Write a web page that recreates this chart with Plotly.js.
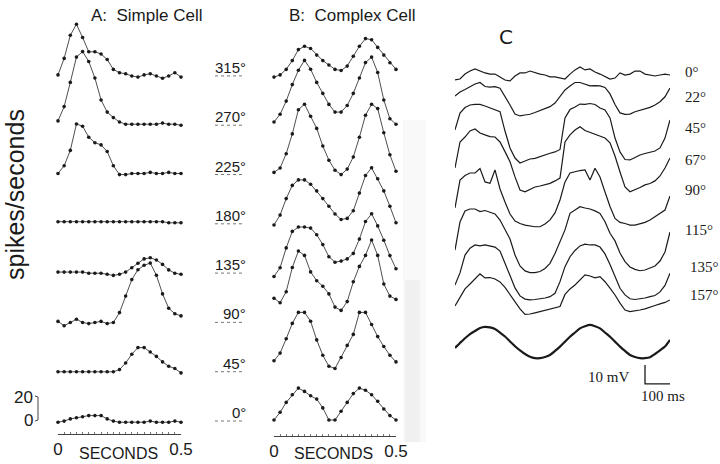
<!DOCTYPE html>
<html><head><meta charset="utf-8">
<script src="https://cdn.plot.ly/plotly-3.0.1.min.js"></script>
<style>html,body{margin:0;padding:0;background:#fff;}#chart{width:720px;height:464px;}</style>
</head><body><div id="chart"></div>
<script>
// ---------- data: panels A and B (spikes/s, 21 bins over 0.5 s) ----------
const timeSeconds = [0,0.025,0.05,0.075,0.1,0.125,0.15,0.175,0.2,0.225,0.25,0.275,0.3,0.325,0.35,0.375,0.4,0.425,0.45,0.475,0.5];
const orientationLabels = ['0°','45°','90°','135°','180°','225°','270°','315°'];

const simple0   = [-2,-1,1,2,3,4,4,4,1,-1,-2,-2,-2,-2,-2,-1,-2,-2,-2,-1,-2];
const simple45  = [-1,-1,-1,-1,-1,-1,-1,-1,-1,-1,1,7,15,21,21,17,13,8,4,2,-2];
const simple90  = [0,-4,-1,2,-1,-2,-1,0,-2,-1,8,23,38,47,51,53,42,25,12,7,5];
const simple135 = [0,0,0,0,0,-1,-1,-1,-2,-3,-2,0,4,8,12,13,11,7,2,-1,-2];
const simple180 = [1,1,1,1,1,1,1,1,1,1,1,1,1,1,1,1,1,1,0,0,0];
const simple225 = [0,7,21,45,43,33,28,26,20,7,-1,-1,0,0,0,1,0,0,1,0,0];
const simple270 = [3,16,38,61,66,57,42,22,11,6,2,0,0,0,0,0,0,1,0,0,-1];
const simple315 = [0,15,36,46,34,21,21,19,14,5,2,1,-1,-2,0,1,-1,-3,-1,2,-2];

const complex0   = [0,7,16,23,29,26,22,19,11,0,0,8,16,24,29,27,23,17,10,4,0];
const complex45  = [9,16,29,43,53,53,45,28,14,4,2,12,23,33,53,53,42,31,22,14,8];
const complex90  = [21,17,27,49,64,60,45,37,32,25,13,10,18,36,50,60,74,60,34,23,20];
const complex135 = [-4,4,22,37,41,41,40,34,25,14,9,10,12,17,30,46,53,42,29,15,3];
const complex180 = [-2,7,22,34,39,39,35,29,22,15,8,3,4,11,27,43,50,40,29,15,0];
const complex225 = [1,5,18,36,58,63,52,41,25,12,3,-1,4,15,33,53,63,59,37,17,2];
const complex270 = [2,9,21,36,49,58,50,38,28,18,11,11,17,28,42,56,61,47,22,5,0];
const complex315 = [-2,0,5,13,23,26,24,18,13,9,5,4,8,17,26,33,32,25,18,11,5];

// ---------- data: panel C (membrane potential, mV) ----------
const timeMs = [0,20,40,60,80,100,120,140,160,180,200,220,240,260,280,300,320,340,360,380,400,420,440,460,480,500,520,540,560,580,600,620,640,660,680,700,720,740,760,780,800,820,840,860];
const membraneLabels = ['0°','22°','45°','67°','90°','115°','135°','157°'];
const vm0   = [-4.2,-3.7,-1.1,0.5,1.6,0.5,-0.5,-1.1,-1.1,-2.6,-4.2,-4.7,-2.1,-0.5,-0.5,0.5,-0.5,-1.1,-1.6,-2.6,-2.6,-3.2,-3.7,-1.1,1.1,2.6,1.1,1.6,0,-1.1,-2.6,-3.7,-3.2,-0.5,-1.6,-1.1,0.5,0.5,-1.1,-1.6,-2.1,-1.6,-1.1,-1.6];
const vm22  = [4.2,6.3,7.6,8.9,10.5,11.3,9.2,8.9,9.1,8.3,4.2,-0.5,-5.3,-6.3,-5.8,-5.4,-4.5,-3.4,-2.4,-1.4,0.5,3.7,7.4,9.5,11.3,11.3,10.3,9.5,9.7,9.5,8.7,5.3,-0.3,-4.7,-5.5,-5.3,-4.1,-3.4,-2.6,-1.8,-0.5,1.2,3.8,8.4];
const vm45  = [3.2,12.1,15,16.3,16.6,16.6,15.8,14.7,13.9,12.8,2.6,-6.3,-11.6,-14.2,-13.2,-12.1,-11.8,-10.8,-9.7,-9.1,-8.4,-7.1,9.5,13.9,15.3,16.8,16.6,17.1,16.6,14.7,13.7,9.5,-1.1,-8.4,-12.4,-12.6,-11.3,-10,-9.2,-8.7,-7.9,-6.3,-1.1,8.4];
const vm67  = [0,13.7,16.3,19.5,20.5,18.4,17.4,16.5,16.3,13.7,8.6,3.3,-4.7,-11.6,-12.5,-11.1,-10,-9.5,-8.7,-8.1,-6.8,-5.3,13.7,17.4,20,21.7,19.7,18.7,17.9,16.5,15.8,13.2,6.3,-2.1,-10,-12.5,-11.6,-10.3,-8.9,-8.2,-6.8,-4.2,0,5.3];
const vm90  = [-4.2,10.5,12.9,14.2,14.2,16.5,9.5,8.8,15.8,5.8,-1.1,-7.4,-11.1,-12.4,-13.2,-13.7,-14.1,-14.1,-12.6,-10.5,-6.8,0,9.5,14.2,14.9,15.5,15.8,10.5,16.7,12.1,4.2,-3.4,-9.7,-11.8,-12.4,-13.2,-13.2,-12.6,-11.8,-10.5,-8.8,-7,-5.3,2.1];
const vm115 = [-9.5,5.3,11.1,12.1,12.1,10.7,11.3,10.5,9.5,6.3,1.6,-3.7,-12.1,-17.9,-20.5,-21.4,-21.4,-20.8,-19.2,-16.5,-11.3,-4.7,1.1,9.8,11.6,13.3,12.6,12.1,11.1,9.8,5.4,-0.7,-4.7,-11.1,-15.6,-18.4,-19.7,-20.4,-20,-18.9,-17.9,-15.3,-10.5,0];
const vm135 = [-11.1,-4.7,4.7,8.3,10,9.5,10,9.5,8.9,6.8,0.8,-6.1,-12.6,-16.8,-18.5,-18.9,-18.7,-18.4,-17.9,-17.2,-15.4,-9.3,-1.4,3.8,7.1,9.5,10.4,10,10,8.9,5.3,-0.3,-6.8,-12.8,-16.3,-18.3,-18.7,-18.4,-17.9,-17.2,-16.6,-14.7,-11.3,-4.9];
const vm157 = [-5.3,-1.1,3.7,6.3,8.9,11.6,9.5,9.7,8.9,7.4,4.5,0.8,-2.6,-6.8,-9.7,-9.5,-8.9,-8.3,-7.6,-6.8,-6.3,-5.6,0.8,3.7,5.8,8.4,11.1,10.5,9.5,10.2,7.5,4.1,0.5,-3.8,-7.4,-8.2,-7.9,-7.4,-6.8,-6.1,-5,-4.2,-3.4,-2.1];
const stimulus = [-10.5,-7.9,-5.4,-3.2,-1.6,0,0.6,0.3,-0.5,-2.4,-4.5,-7.1,-9.6,-11.8,-13.7,-15.2,-15.9,-15.9,-15.3,-14.2,-12.1,-9.8,-7.2,-4.6,-2.4,-0.2,0.9,1.6,0.9,-0.2,-2.4,-4.6,-7.2,-9.8,-12.1,-14.2,-15.3,-15.9,-15.9,-15.4,-13.7,-11.8,-9.8,-6.3];

// ---------- layout constants ----------
const W = 720, H = 464;
const px = v => v / W, py = v => 1 - v / H;
const ROW = 44.82;      // spikes/s between stacked rows (A,B)
const ROW_C = 16.84;    // mV between stacked rows (C)
const SANS = 'Liberation Sans, Arial, sans-serif';
const SERIF = 'Liberation Serif, Times New Roman, serif';
const INK = '#1a1a1a';

const simpleSeries = [simple0,simple45,simple90,simple135,simple180,simple225,simple270,simple315];
const complexSeries = [complex0,complex45,complex90,complex135,complex180,complex225,complex270,complex315];
const vmSeries = [vm0,vm22,vm45,vm67,vm90,vm115,vm135,vm157];

const traces = [];
function psth(vals, i, xa) {
  return {x: timeSeconds, y: vals.map(v => v + i * ROW), xaxis: xa, yaxis: 'y',
    type: 'scatter', mode: 'lines+markers', cliponaxis: false, hoverinfo: 'skip',
    line: {color: '#3a3a3a', width: 0.9}, marker: {size: 3.6, color: INK}};
}
simpleSeries.forEach((v, i) => traces.push(psth(v, i, 'x')));
complexSeries.forEach((v, i) => traces.push(psth(v, i, 'x2')));
vmSeries.forEach((v, i) => traces.push({x: timeMs, y: v.map(d => d - i * ROW_C), xaxis: 'x3', yaxis: 'y2',
  type: 'scatter', mode: 'lines', cliponaxis: false, hoverinfo: 'skip',
  line: {color: INK, width: 1.2, shape: 'linear'}}));
traces.push({x: timeMs, y: stimulus.map(d => d - 8 * ROW_C), xaxis: 'x3', yaxis: 'y2',
  type: 'scatter', mode: 'lines', cliponaxis: false, hoverinfo: 'skip',
  line: {color: INK, width: 2.2, shape: 'spline', smoothing: 0.6}});

// scale bar for C: 10 mV / 100 ms
const barMs = 100, barMv = 10, barX0 = 760, barY0 = -164.2;
traces.push({x: [barX0, barX0, barX0 + barMs], y: [barY0 + barMv, barY0, barY0], xaxis: 'x3', yaxis: 'y2',
  type: 'scatter', mode: 'lines', cliponaxis: false, hoverinfo: 'skip', line: {color: INK, width: 1.3}});

// baselines (px) of stacked rows, used only for label placement
const rowPx = i => 420 - i * 49.3;

const annotations = [];
const shapes = [];
function txt(x, y, text, size, family, opts) {
  annotations.push(Object.assign({xref: 'paper', yref: 'paper', x: px(x), y: py(y), text: text,
    showarrow: false, xanchor: 'center', yanchor: 'middle', font: {family: family, size: size, color: INK}}, opts || {}));
}
txt(146, 15, 'A:  Simple Cell', 17, SANS);
txt(352, 15, 'B:  Complex Cell', 17, SANS);
txt(506, 37, 'C', 20, 'DejaVu Sans, sans-serif');
txt(15, 195, 'spikes/seconds', 25, SANS, {textangle: -90});
txt(118, 453, 'SECONDS', 16, SANS);
txt(333, 453, 'SECONDS', 16, SANS);
txt(35, 397, '20', 17, SANS, {xanchor: 'right'});
txt(35, 420, '0', 17, SANS, {xanchor: 'right'});
// bracket for 20 spikes/s
shapes.push({type: 'path', xref: 'paper', yref: 'paper',
  path: `M ${px(35)} ${py(396)} L ${px(38)} ${py(397)} L ${px(38)} ${py(420)} L ${px(35)} ${py(421)}`,
  line: {color: '#444', width: 1}});

orientationLabels.forEach((lab, i) => {
  const b = rowPx(i);
  txt(248, b - 7.5, lab, 15, SANS, {xanchor: 'right'});
  shapes.push({type: 'line', xref: 'paper', yref: 'paper', x0: px(215), x1: px(243), y0: py(b + 1), y1: py(b + 1),
    line: {color: '#777', width: 1, dash: 'dot'}});
});
const cLabelY = [72, 97, 128, 160, 190, 230, 267, 295];
membraneLabels.forEach((lab, i) => {
  txt(i < 6 ? 683 : 688, cLabelY[i], lab, 15, SERIF, {xanchor: 'left'});
});
txt(631, 377, '10 mV', 15, SERIF, {xanchor: 'right'});
txt(663, 396, '100 ms', 15, SERIF);

// faint scan stipple band right of panel B
shapes.push({type: 'rect', xref: 'paper', yref: 'paper', x0: px(403), x1: px(426), y0: py(442), y1: py(120),
  fillcolor: 'rgba(0,0,0,0.025)', line: {width: 0}, layer: 'below'});
shapes.push({type: 'rect', xref: 'paper', yref: 'paper', x0: px(405), x1: px(420), y0: py(442), y1: py(280),
  fillcolor: 'rgba(0,0,0,0.035)', line: {width: 0}, layer: 'below'});

const timeAxis = (d0, d1, ypx) => ({domain: [px(d0), px(d1)], range: [0, 0.5], anchor: 'free', position: py(ypx),
  showline: true, linecolor: '#444', linewidth: 1, ticks: 'inside', ticklen: 5, tickcolor: '#444',
  tickvals: [0, 0.5], ticktext: ['0', '0.5'], tickfont: {family: SANS, size: 17, color: INK},
  minor: {ticks: 'inside', ticklen: 2, dtick: 0.025, tickcolor: '#777'},
  showgrid: false, zeroline: false, fixedrange: true});

const layout = {
  width: W, height: H, margin: {l: 0, r: 0, t: 0, b: 0}, paper_bgcolor: '#fff', plot_bgcolor: 'rgba(0,0,0,0)',
  showlegend: false,
  xaxis: timeAxis(58, 181, 434),
  xaxis2: timeAxis(274, 396, 436),
  xaxis3: {domain: [px(455), px(670)], range: [0, 860], anchor: 'y2', visible: false, fixedrange: true},
  yaxis: {domain: [0, 1], range: [-40, 381.82], anchor: 'x', visible: false, fixedrange: true},
  yaxis2: {domain: [0, 1], range: [-206.32, 37.89], anchor: 'x3', visible: false, fixedrange: true},
  annotations: annotations, shapes: shapes
};
Plotly.newPlot('chart', traces, layout, {staticPlot: true, displayModeBar: false});
</script></body></html>
